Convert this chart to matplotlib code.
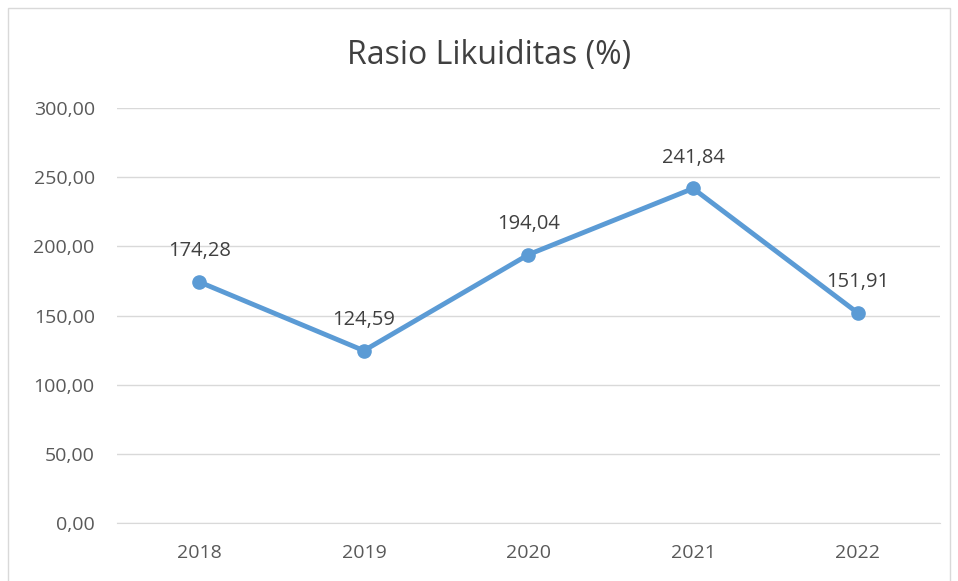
import matplotlib
matplotlib.use('Agg')
import matplotlib.pyplot as plt
from matplotlib.patches import Rectangle

# data
years = ['2018', '2019', '2020', '2021', '2022']
rasio = [174.28, 124.59, 194.04, 241.84, 151.91]
y_ticks = [0, 50, 100, 150, 200, 250, 300]


def koma(v):
    return f'{v:.2f}'.replace('.', ',')


plt.rcParams['font.family'] = ['Open Sans', 'DejaVu Sans']

fig = plt.figure(figsize=(9.58, 5.81), dpi=100)
fig.patches.append(Rectangle((0.008, -0.01), 0.984, 0.997, transform=fig.transFigure,
                             fill=False, edgecolor='#d9d9d9', linewidth=1))

ax = fig.add_axes([0.1221, 0.0998, 0.8591, 0.7143])
x = list(range(len(years)))
ax.plot(x, rasio, color='#5B9BD5', linewidth=3.5, marker='o', markersize=9.5, zorder=3)

for xi, v in zip(x, rasio):
    ax.annotate(koma(v), (xi, v), xytext=(0, 22), textcoords='offset points',
                ha='center', va='center', fontsize=14.5, color='#404040')

ax.set_xlim(-0.5, len(years) - 0.5)
ax.set_ylim(0, 300)
ax.set_yticks(y_ticks)
ax.set_yticklabels([koma(t) for t in y_ticks])
ax.set_xticks(x)
ax.set_xticklabels(years)
ax.grid(axis='y', color='#d9d9d9', linewidth=1)
ax.set_axisbelow(True)
for s in ['top', 'right', 'left']:
    ax.spines[s].set_visible(False)
ax.spines['bottom'].set_color('#d9d9d9')
ax.tick_params(axis='both', length=0, labelsize=14, labelcolor='#595959')
ax.tick_params(axis='y', pad=16)
ax.tick_params(axis='x', pad=15)

fig.text(0.511, 0.905, 'Rasio Likuiditas (%)', ha='center', va='center',
         fontsize=23, color='#404040')

fig.savefig('out.png', dpi=100)
